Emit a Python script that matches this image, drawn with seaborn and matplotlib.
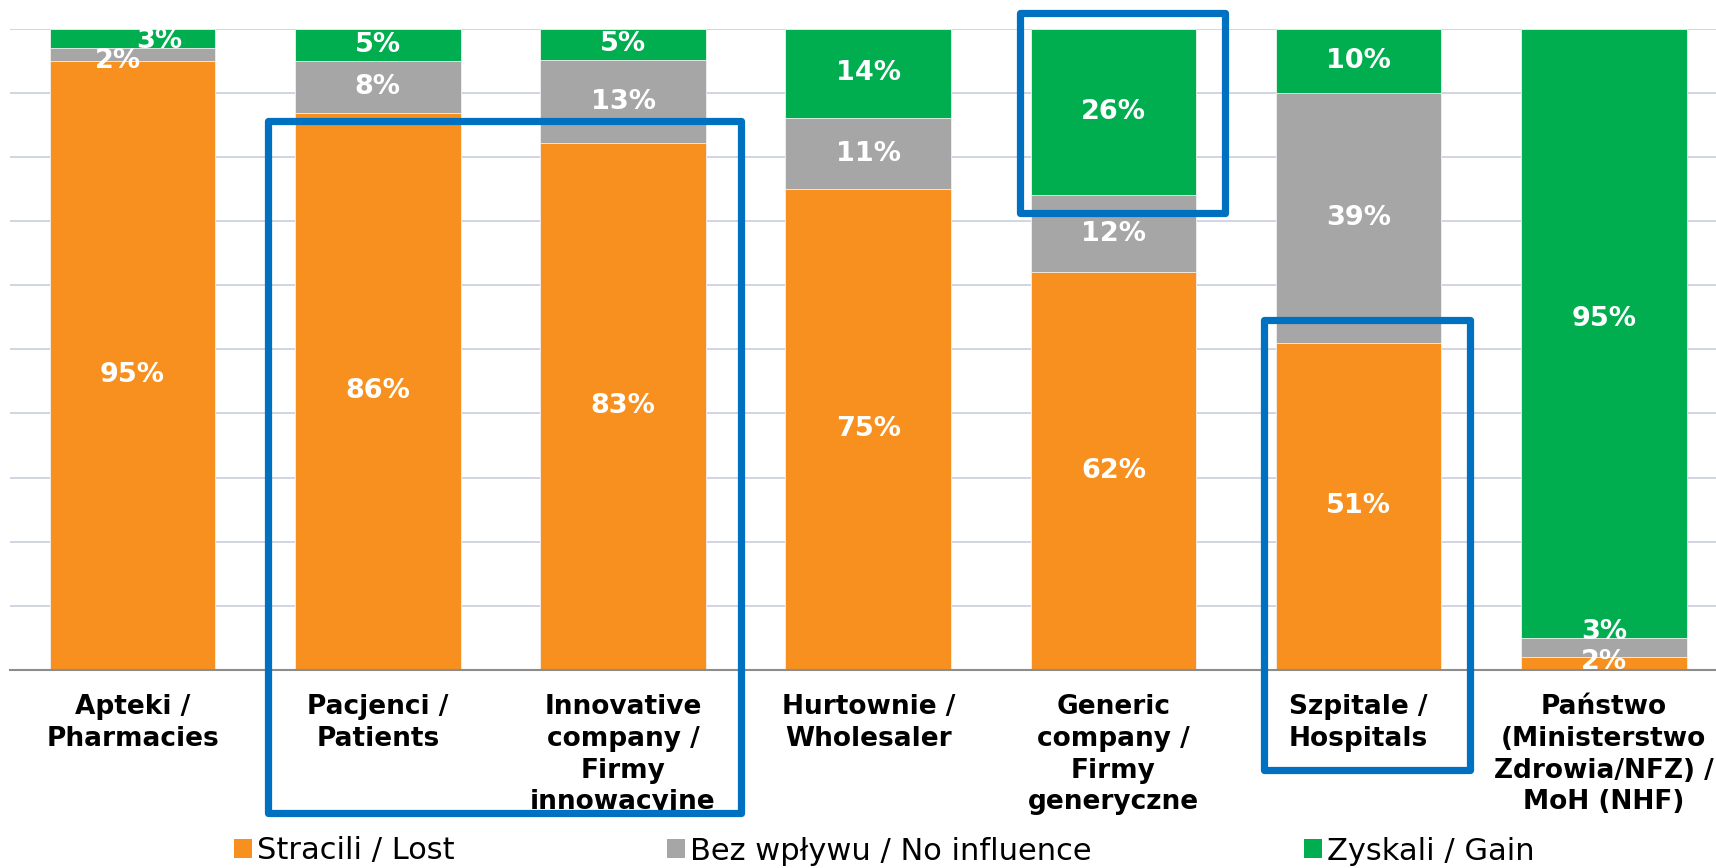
import numpy as np
import pandas as pd
import matplotlib
matplotlib.use("Agg")
import matplotlib.pyplot as plt
from matplotlib.patches import Rectangle, Patch
import seaborn as sns

# ---------------- data ----------------
categories = [
    "Apteki /\nPharmacies",
    "Pacjenci /\nPatients",
    "Innovative\ncompany /\nFirmy\ninnowacyjne",
    "Hurtownie /\nWholesaler",
    "Generic\ncompany /\nFirmy\ngeneryczne",
    "Szpitale /\nHospitals",
    "Państwo\n(Ministerstwo\nZdrowia/NFZ) /\nMoH (NHF)",
]
lost = [95, 86, 83, 75, 62, 51, 2]
no_influence = [2, 8, 13, 11, 12, 39, 3]
gain = [3, 5, 5, 14, 26, 10, 95]
series_names = ["Stracili / Lost", "Bez wpływu / No influence", "Zyskali / Gain"]

# ---------------- style ----------------
sns.set_style("white")
plt.rcParams["font.family"] = ["DejaVu Sans"]
plt.rcParams["text.color"] = "black"

C_LOST = "#F7901E"
C_NONE = "#A6A6A6"
C_GAIN = "#00AE4F"
C_BLUE = "#0070C0"

W, H, DPI = 1716, 868, 100
fig = plt.figure(figsize=(W / DPI, H / DPI), dpi=DPI)

# axes geometry in pixels
ax_left, ax_right, ax_top, ax_bottom = 10, 10 + 7 * 245.2, 28.5, 670
ax = fig.add_axes([ax_left / W, 1 - ax_bottom / H,
                   (ax_right - ax_left) / W, (ax_bottom - ax_top) / H])

# normalise to 100 % stacked
arr = np.array([lost, no_influence, gain], dtype=float)
pct = arr / arr.sum(axis=0) * 100
cum1 = pct[0]
cum2 = pct[0] + pct[1]
cum3 = pct.sum(axis=0)

df = pd.DataFrame({"cat": categories, "c1": cum1, "c2": cum2, "c3": cum3})
bw = 0.675
for col, colr in [("c3", C_GAIN), ("c2", C_NONE), ("c1", C_LOST)]:
    sns.barplot(data=df, x="cat", y=col, color=colr, saturation=1, width=bw,
                order=categories, ax=ax, zorder=2, edgecolor="#F2F2F2", linewidth=0.6)

ax.set_xlim(-0.5, 6.5)
ax.set_ylim(0, 100)
ax.set_xlabel("")
ax.set_ylabel("")

# grid
ax.set_yticks(np.arange(0, 101, 10))
ax.set_yticklabels([])
ax.tick_params(axis="y", length=0)
ax.yaxis.grid(True, color="#D0D5E2", linewidth=1.4)
ax.set_axisbelow(True)

for s in ["left", "right", "top"]:
    ax.spines[s].set_visible(False)
ax.spines["bottom"].set_color("#8C8C8C")
ax.spines["bottom"].set_linewidth(1.5)

ax.set_xticks(range(7))
ax.set_xticklabels(categories, fontsize=19, fontweight="bold", color="black",
                   linespacing=1.28, va="top")
ax.tick_params(axis="x", which="major", length=0, pad=17.5)
ax.set_xticks(np.arange(-0.5, 7, 1), minor=True)
ax.tick_params(axis="x", which="minor", length=7, width=1.5, color="#8C8C8C", direction="out")

# value labels (small nudges mimic the original label placement)
nudges = {(0, 2): (0.11, -0.5), (0, 1): (-0.06, -1.0), (0, 0): (0.0, -1.5),
          (6, 2): (0.0, 2.2), (6, 1): (0.0, 2.4), (6, 0): (0.0, 0.3)}
bottoms = [np.zeros(7), cum1, cum2]
raw = [lost, no_influence, gain]
for si in range(3):
    for i in range(7):
        yc = bottoms[si][i] + pct[si][i] / 2
        dx, dy = nudges.get((i, si), (0.0, 0.0))
        ax.text(i + dx, yc + dy, f"{raw[si][i]}%", ha="center", va="center",
                color="white", fontsize=19.5, fontweight="bold", zorder=5)

# legend
handles = [Patch(facecolor=c, edgecolor="none") for c in (C_LOST, C_NONE, C_GAIN)]
fig.legend(handles, series_names, loc="center", bbox_to_anchor=(884 / W, 1 - 851 / H),
           ncol=3, frameon=False, fontsize=22, handlelength=0.6, handleheight=0.6,
           handletextpad=0.15, columnspacing=6.95, borderaxespad=0, labelcolor="black")

# highlight boxes (pixel coordinates of the drawn frames)
boxes = [(268, 121, 741, 813), (1019.5, 13.5, 1225, 212.5), (1263.5, 320, 1469.5, 770)]
for (x0, y0, x1, y1) in boxes:
    r = Rectangle((x0 / W, 1 - y1 / H), (x1 - x0) / W, (y1 - y0) / H,
                  transform=fig.transFigure, fill=False, edgecolor=C_BLUE,
                  linewidth=5.2, joinstyle="round", zorder=10)
    fig.add_artist(r)

fig.savefig("out.png", dpi=DPI)
